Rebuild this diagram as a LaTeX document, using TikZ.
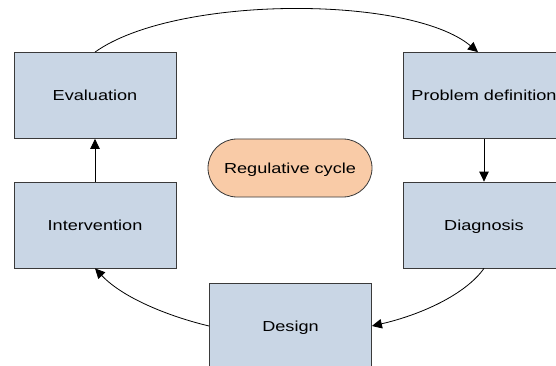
\documentclass[tikz,border=0pt]{standalone}
\usepackage{fontspec}
\usepackage{graphicx}
\setmainfont{Liberation Sans}
\usetikzlibrary{arrows.meta,shapes.misc}
\definecolor{boxfill}{HTML}{C9D6E5}
\definecolor{boxline}{HTML}{3A3A3A}
\definecolor{pillfill}{HTML}{F9CBA7}
\newcommand{\wide}[1]{\scalebox{1.25}[1]{#1}}
\tikzset{
  stepbox/.style={draw=boxline, fill=boxfill, line width=0.8pt, minimum width=162pt, minimum height=86pt, inner sep=0pt, text height=11pt, text depth=0pt, font=\fontsize{14.5}{17}\selectfont},
  pill/.style={draw=boxline, fill=pillfill, line width=0.8pt, rounded rectangle, minimum width=164pt, minimum height=58pt, inner sep=0pt, text height=11pt, text depth=0pt, font=\fontsize{14.5}{17}\selectfont},
  link/.style={draw=black, line width=0.8pt, -{Triangle[length=10pt,width=9.5pt]}}
}
\begin{document}
\begin{tikzpicture}[x=1pt,y=-1pt]
\useasboundingbox (0,0) rectangle (556,366);
\clip (0,0) rectangle (556,366);
\fill[white] (0,0) rectangle (556,366);
\node[stepbox] (ev) at (95,95.5) {\wide{Evaluation}};
\node[stepbox] (pd) at (484,95.5) {\wide{Problem definition}};
\node[stepbox] (iv) at (95,225) {\wide{Intervention}};
\node[stepbox] (dg) at (484,225) {\wide{Diagnosis}};
\node[stepbox] (ds) at (290.5,326) {\wide{Design}};
\node[pill] (rc) at (290,168) {\wide{Regulative cycle}};
\draw[link] (ev.north) .. controls (175,-5) and (410,-5) .. ([xshift=-6pt]pd.north);
\draw[link] (pd.south) -- (dg.north);
\draw[link] (dg.south) .. controls (465,295) and (420,315) .. (ds.east);
\draw[link] (ds.west) .. controls (175,318) and (125,300) .. (iv.south);
\draw[link] (iv.north) -- (ev.south);
\end{tikzpicture}
\end{document}
